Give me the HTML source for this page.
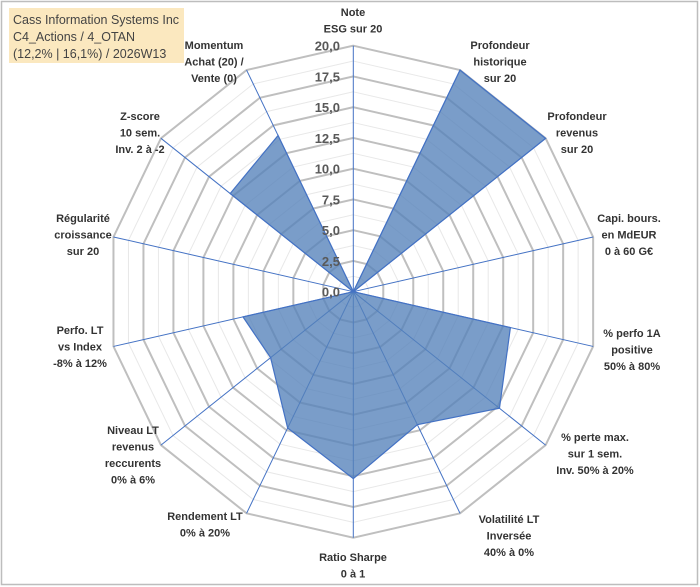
<!DOCTYPE html>
<html><head><meta charset="utf-8"><style>
html,body{margin:0;padding:0;background:#fff;}
svg{display:block;font-family:"Liberation Sans",sans-serif;}
</style></head><body>
<svg id="chart" width="700" height="587" viewBox="0 0 700 587" xmlns="http://www.w3.org/2000/svg">
<rect x="1.5" y="1.5" width="696" height="583" fill="#fff" stroke="#bdbdbd" stroke-width="1.5"/>
<g id="grid"></g>
<g id="series"></g>
<g id="ticks"></g>
<g id="labels"></g>
<g>
<rect x="9" y="8" width="175" height="55" fill="#fbe5b8" opacity="0.9"/>
<text x="13" y="24" font-size="12.5" fill="#444">Cass Information Systems Inc</text>
<text x="13" y="41" font-size="12.5" fill="#444">C4_Actions / 4_OTAN</text>
<text x="13" y="58" font-size="12.5" fill="#444">(12,2% | 16,1%) / 2026W13</text>
</g>
</svg>
<script>
const categories=[["Note","ESG sur 20"],["Profondeur","historique","sur 20"],["Profondeur","revenus","sur 20"],["Capi. bours.","en MdEUR","0 à 60 G€"],["% perfo 1A","positive","50% à 80%"],["% perte max.","sur 1 sem.","Inv. 50% à 20%"],["Volatilité LT","Inversée","40% à 0%"],["Ratio Sharpe","0 à 1"],["Rendement LT","0% à 20%"],["Niveau LT","revenus","reccurents","0% à 6%"],["Perfo. LT","vs Index","-8% à 12%"],["Régularité","croissance","sur 20"],["Z-score","10 sem.","Inv. 2 à -2"],["Momentum","Achat (20) /","Vente (0)"]];
const values=[0,20,20,0,13.1,15.2,12,15.2,12.3,8.6,9.2,0,12.8,14.1];
const tickLabels=["0,0","2,5","5,0","7,5","10,0","12,5","15,0","17,5","20,0"];
const labelPos=[[353,12],[500,45],[577,116],[629,218],[632,333],[595,437],[509,519],[353,557],[205,516],[133,430],[80,330],[83,218],[140,116],[214,45]];
const NS="http://www.w3.org/2000/svg";
const cx=353.3,cy=291.7,R=246,maxV=20,N=categories.length;
function pt(i,v){const a=i*2*Math.PI/N;const r=v/maxV*R;return [cx+r*Math.sin(a),cy-r*Math.cos(a)];}
function mk(tag,attrs,parent){const e=document.createElementNS(NS,tag);for(const k in attrs)e.setAttribute(k,attrs[k]);parent.appendChild(e);return e;}
const grid=document.getElementById('grid');
for(let k=1;k<=16;k++){const v=k*1.25;const pts=[];for(let i=0;i<N;i++)pts.push(pt(i,v).join(','));
const major=k%2===0;
const p=mk('polygon',{points:pts.join(' '),fill:'none',stroke:major?'#bfbfbf':'#e8e8e8','stroke-width':major?2:1},grid);

}
for(let i=0;i<N;i++){const e=pt(i,maxV);const l=mk('line',{x1:cx,y1:cy,x2:e[0],y2:e[1],stroke:'#4472c4','stroke-width':1},grid);

}
const ser=document.getElementById('series');
const sp=values.map((v,i)=>pt(i,v).join(',')).join(' ');
const poly=mk('polygon',{points:sp,fill:'#5482ba','fill-opacity':0.78,stroke:'#4472c4','stroke-width':1.2},ser);


const ticks=document.getElementById('ticks');
tickLabels.forEach((t,k)=>{const y=cy-(k*2.5)/maxV*R;const tx=mk('text',{x:340,y:y+5,'text-anchor':'end','font-size':13,'font-weight':'bold',fill:'#595959'},ticks);tx.textContent=t;

});
const labs=document.getElementById('labels');
categories.forEach((c,i)=>{const [x,y]=labelPos[i];const g=mk('text',{x:x,y:y,'text-anchor':'middle','font-size':11,'font-weight':'bold',fill:'#333'},labs);


c.forEach((line,j)=>{const ts=mk('tspan',{x:x,y:y+4+j*16.5},g);ts.textContent=line;});});
</script>
</body></html>
